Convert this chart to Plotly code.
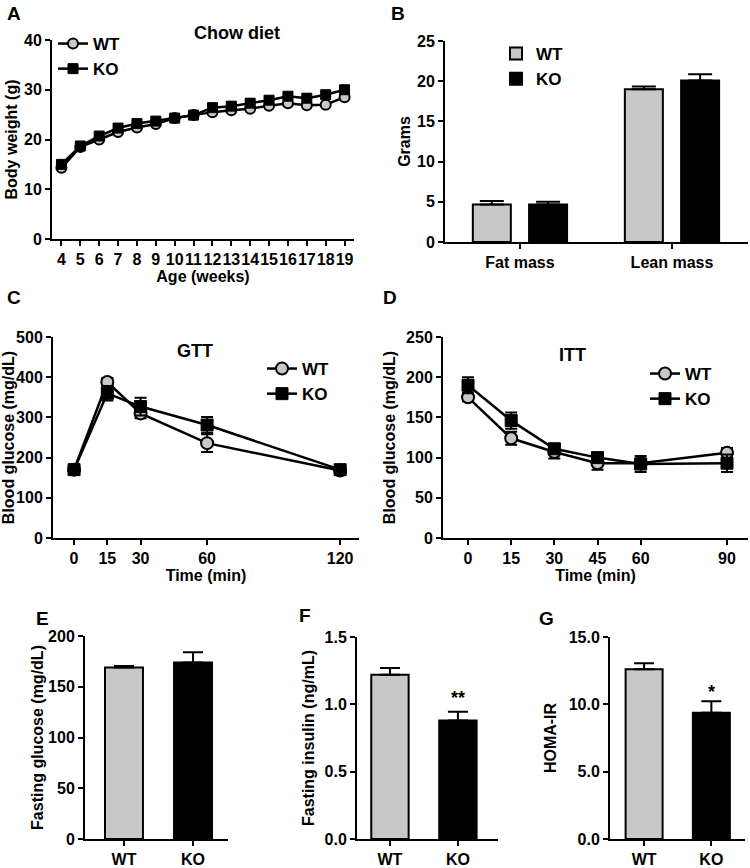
import plotly.graph_objects as go

W, H = 750, 868

# ---------------- data ----------------
ages = [4, 5, 6, 7, 8, 9, 10, 11, 12, 13, 14, 15, 16, 17, 18, 19]
wt_bw = [14.3, 18.5, 20.0, 21.5, 22.4, 23.1, 24.3, 24.9, 25.5, 25.9, 26.2, 26.8, 27.3, 26.9, 27.0, 28.5]
ko_bw = [15.0, 18.7, 20.7, 22.3, 23.2, 23.7, 24.3, 24.9, 26.4, 26.7, 27.3, 27.9, 28.7, 28.3, 29.0, 30.0]

comp_cats = ["Fat mass", "Lean mass"]
wt_comp = [4.65, 19.0]
wt_comp_err = [0.45, 0.35]
ko_comp = [4.65, 20.1]
ko_comp_err = [0.35, 0.75]

gtt_t = [0, 15, 30, 60, 120]
gtt_wt = [170, 388, 310, 236, 168]
gtt_wt_err = [6, 10, 12, 22, 5]
gtt_ko = [170, 360, 327, 281, 170]
gtt_ko_err = [6, 18, 22, 20, 6]

itt_t = [0, 15, 30, 45, 60, 90]
itt_wt = [175, 124, 107, 93, 93, 106]
itt_wt_err = [5, 8, 8, 8, 6, 6]
itt_ko = [190, 146, 111, 100, 92, 93]
itt_ko_err = [10, 10, 5, 5, 10, 11]

groups = ["WT", "KO"]
fast_glu = [169, 174]
fast_glu_err = [1.5, 10]
fast_ins = [1.22, 0.88]
fast_ins_err = [0.05, 0.065]
homa = [12.6, 9.37]
homa_err = [0.45, 0.85]

GREY = "#c8c8c8"
BLACK = "#000000"
FONT = "Liberation Sans, Arial, sans-serif"


def dx(l, r):
    return [l / W, r / W]


def dy(t, b):
    return [1 - b / H, 1 - t / H]


fig = go.Figure()

# ---------- A : body weight ----------
fig.add_trace(go.Scatter(x=ages, y=wt_bw, name="WT", mode="lines+markers",
                         line=dict(color=BLACK, width=2.5),
                         marker=dict(symbol="circle", size=10, color=GREY, line=dict(color=BLACK, width=2)),
                         xaxis="x", yaxis="y", legend="legend"))
fig.add_trace(go.Scatter(x=ages, y=ko_bw, name="KO", mode="lines+markers",
                         line=dict(color=BLACK, width=2.5),
                         marker=dict(symbol="square", size=10, color=BLACK, line=dict(color=BLACK, width=1)),
                         xaxis="x", yaxis="y", legend="legend"))

# ---------- B : body composition ----------
fig.add_trace(go.Bar(x=comp_cats, y=wt_comp, name="WT", width=0.25, offset=-0.31,
                     marker=dict(color=GREY, line=dict(color=BLACK, width=2)),
                     error_y=dict(type="data", array=wt_comp_err, arrayminus=[0, 0], symmetric=False,
                                  color=BLACK, thickness=2, width=12),
                     xaxis="x2", yaxis="y2", legend="legend2"))
fig.add_trace(go.Bar(x=comp_cats, y=ko_comp, name="KO", width=0.25, offset=0.06,
                     marker=dict(color=BLACK, line=dict(color=BLACK, width=2)),
                     error_y=dict(type="data", array=ko_comp_err, arrayminus=[0, 0], symmetric=False,
                                  color=BLACK, thickness=2, width=12),
                     xaxis="x2", yaxis="y2", legend="legend2"))

# ---------- C : GTT ----------
fig.add_trace(go.Scatter(x=gtt_t, y=gtt_wt, name="WT", mode="lines+markers",
                         line=dict(color=BLACK, width=2.5),
                         marker=dict(symbol="circle", size=12, color=GREY, line=dict(color=BLACK, width=2)),
                         error_y=dict(type="data", array=gtt_wt_err, color=BLACK, thickness=2, width=6),
                         xaxis="x3", yaxis="y3", legend="legend3"))
fig.add_trace(go.Scatter(x=gtt_t, y=gtt_ko, name="KO", mode="lines+markers",
                         line=dict(color=BLACK, width=2.5),
                         marker=dict(symbol="square", size=12, color=BLACK, line=dict(color=BLACK, width=1)),
                         error_y=dict(type="data", array=gtt_ko_err, color=BLACK, thickness=2, width=6),
                         xaxis="x3", yaxis="y3", legend="legend3"))

# ---------- D : ITT ----------
fig.add_trace(go.Scatter(x=itt_t, y=itt_wt, name="WT", mode="lines+markers",
                         line=dict(color=BLACK, width=2.5),
                         marker=dict(symbol="circle", size=12, color=GREY, line=dict(color=BLACK, width=2)),
                         error_y=dict(type="data", array=itt_wt_err, color=BLACK, thickness=2, width=6),
                         xaxis="x4", yaxis="y4", legend="legend4"))
fig.add_trace(go.Scatter(x=itt_t, y=itt_ko, name="KO", mode="lines+markers",
                         line=dict(color=BLACK, width=2.5),
                         marker=dict(symbol="square", size=12, color=BLACK, line=dict(color=BLACK, width=1)),
                         error_y=dict(type="data", array=itt_ko_err, color=BLACK, thickness=2, width=6),
                         xaxis="x4", yaxis="y4", legend="legend4"))

# ---------- E, F, G : bars ----------
for vals, errs, ax in [(fast_glu, fast_glu_err, "5"), (fast_ins, fast_ins_err, "6"), (homa, homa_err, "7")]:
    fig.add_trace(go.Bar(x=groups, y=vals, width=0.55, showlegend=False,
                         marker=dict(color=[GREY, BLACK], line=dict(color=BLACK, width=2)),
                         error_y=dict(type="data", array=errs, arrayminus=[0, 0], symmetric=False,
                                      color=BLACK, thickness=2, width=10),
                         xaxis="x" + ax, yaxis="y" + ax))

tickfont = dict(family=FONT, size=16, color=BLACK, weight="bold")
titlefont = dict(family=FONT, size=16, color=BLACK, weight="bold")


def axstyle(**kw):
    d = dict(showline=True, linecolor=BLACK, linewidth=2, ticks="outside", ticklen=5,
             tickwidth=2, tickcolor=BLACK, showgrid=False, zeroline=False,
             tickfont=tickfont, fixedrange=True, automargin=False, tickangle=0)
    d.update(kw)
    return d


layout = dict(
    template="none",
    width=W, height=H, margin=dict(l=0, r=0, t=0, b=0, autoexpand=False),
    paper_bgcolor="white", plot_bgcolor="white",
    font=dict(family=FONT, color=BLACK, weight="bold"),
    barmode="overlay",
    # A
    xaxis=axstyle(domain=dx(52, 354), anchor="y", range=[3.5, 19.5], tickmode="array", tickvals=ages,
                  title=dict(text="Age (weeks)", font=titlefont, standoff=4)),
    yaxis=axstyle(domain=dy(40, 239), anchor="x", range=[0, 40], dtick=10,
                  title=dict(text="Body weight (g)", font=titlefont, standoff=2)),
    # B
    xaxis2=axstyle(domain=dx(445, 748), anchor="y2", range=[-0.493, 1.5], type="category"),
    yaxis2=axstyle(domain=dy(41, 242), anchor="x2", range=[0, 25], dtick=5,
                   title=dict(text="Grams", font=titlefont, standoff=2)),
    # C
    xaxis3=axstyle(domain=dx(53, 359), anchor="y3", range=[-9.5, 128.5], tickmode="array", tickvals=gtt_t,
                   title=dict(text="Time (min)", font=titlefont, standoff=4)),
    yaxis3=axstyle(domain=dy(337, 538), anchor="x3", range=[0, 500], dtick=100,
                   title=dict(text="Blood glucose (mg/dL)", font=titlefont, standoff=6)),
    # D
    xaxis4=axstyle(domain=dx(443, 748), anchor="y4", range=[-8.7, 97.3], tickmode="array", tickvals=itt_t,
                   title=dict(text="Time (min)", font=titlefont, standoff=4)),
    yaxis4=axstyle(domain=dy(337, 538), anchor="x4", range=[0, 250], dtick=50,
                   title=dict(text="Blood glucose (mg/dL)", font=titlefont, standoff=6)),
    # E
    xaxis5=axstyle(domain=dx(85, 228), anchor="y5", range=[-0.565, 1.507], type="category"),
    yaxis5=axstyle(domain=dy(636, 839), anchor="x5", range=[0, 200], dtick=50,
                   title=dict(text="Fasting glucose (mg/dL)", font=titlefont, standoff=0)),
    # F
    xaxis6=axstyle(domain=dx(357, 498), anchor="y6", range=[-0.485, 1.59], type="category"),
    yaxis6=axstyle(domain=dy(637, 839), anchor="x6", range=[0, 1.5], dtick=0.5, tickformat=".1f",
                   title=dict(text="Fasting insulin (ng/mL)", font=titlefont, standoff=6)),
    # G
    xaxis7=axstyle(domain=dx(610, 745), anchor="y7", range=[-0.507, 1.5], type="category"),
    yaxis7=axstyle(domain=dy(637, 839), anchor="x7", range=[0, 15], dtick=5, tickformat=".1f",
                   title=dict(text="HOMA-IR", font=titlefont, standoff=8)),
)

legfont = dict(family=FONT, size=17, color=BLACK, weight="bold")
legbase = dict(font=legfont, bgcolor="rgba(0,0,0,0)", xanchor="left", yanchor="top",
               itemclick=False, itemdoubleclick=False, tracegroupgap=0, borderwidth=0)
layout["legend"] = dict(legbase, x=53 / W, y=1 - 26 / H)
layout["legend2"] = dict(legbase, x=496 / W, y=1 - 36 / H)
layout["legend3"] = dict(legbase, x=262 / W, y=1 - 351 / H)
layout["legend4"] = dict(legbase, x=645 / W, y=1 - 356 / H)

fig.update_layout(**layout)

# titles inside panels and panel letters
ann = [
    dict(text="Chow diet", x=237 / W, y=1 - 33 / H, size=18),
    dict(text="GTT", x=195 / W, y=1 - 351 / H, size=18),
    dict(text="ITT", x=572 / W, y=1 - 355 / H, size=18),
    dict(text="A", x=14 / W, y=1 - 13 / H, size=19),
    dict(text="B", x=398 / W, y=1 - 13 / H, size=19),
    dict(text="C", x=14 / W, y=1 - 297 / H, size=19),
    dict(text="D", x=390 / W, y=1 - 297 / H, size=19),
    dict(text="E", x=42 / W, y=1 - 618 / H, size=19),
    dict(text="F", x=305 / W, y=1 - 615 / H, size=19),
    dict(text="G", x=546 / W, y=1 - 618 / H, size=19),
]
for a in ann:
    fig.add_annotation(text=a["text"], x=a["x"], y=a["y"], xref="paper", yref="paper",
                       showarrow=False, xanchor="center", yanchor="middle",
                       font=dict(family=FONT, size=a["size"], color=BLACK, weight="bold"))

# significance marks
fig.add_annotation(text="**", x="KO", y=fast_ins[1] + fast_ins_err[1], xref="x6", yref="y6",
                   showarrow=False, yanchor="bottom", yshift=2,
                   font=dict(family=FONT, size=18, color=BLACK, weight="bold"))
fig.add_annotation(text="*", x="KO", y=homa[1] + homa_err[1], xref="x7", yref="y7",
                   showarrow=False, yanchor="bottom", yshift=-3,
                   font=dict(family=FONT, size=18, color=BLACK, weight="bold"))

fig.write_html("out.html", config={"displayModeBar": False},
               post_script="document.body.style.margin='0';")
